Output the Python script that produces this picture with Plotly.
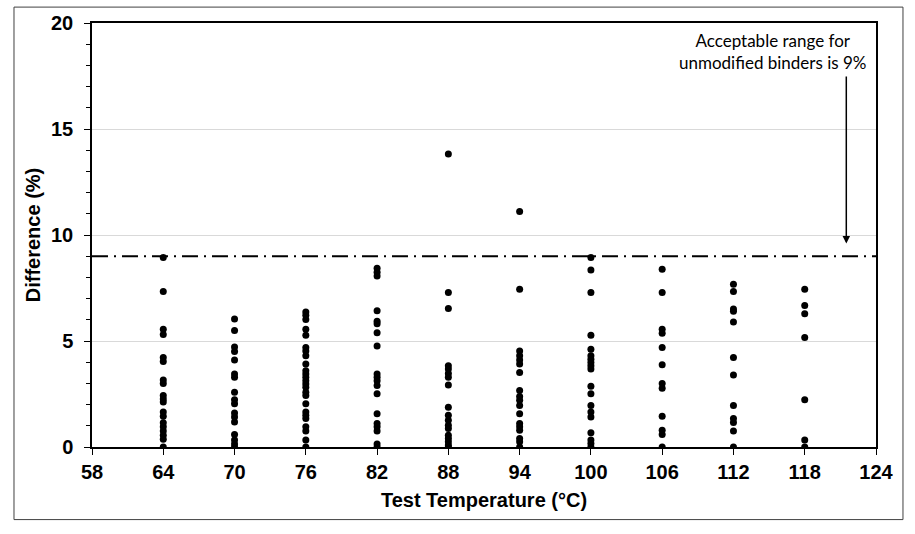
import plotly.graph_objects as go

temps = [64, 70, 76, 82, 88, 94, 100, 106, 112, 118]
diff_64 = [8.94, 7.34, 5.55, 5.31, 4.22, 4.03, 3.16, 3.0, 2.43, 2.27, 2.12, 1.65, 1.45, 1.14, 0.95, 0.76, 0.56, 0.36, 0.0]
diff_70 = [6.04, 5.50, 4.72, 4.50, 4.10, 3.44, 3.29, 2.58, 2.23, 2.04, 1.60, 1.42, 1.18, 0.59, 0.33, 0.14, 0.0]
diff_76 = [6.37, 6.21, 6.01, 5.55, 5.27, 4.69, 4.53, 4.30, 3.91, 3.60, 3.44, 3.29, 3.13, 2.97, 2.82, 2.58, 2.43, 2.04, 1.65, 1.50, 1.34, 0.95, 0.76, 0.33, 0.0]
diff_82 = [8.43, 8.24, 8.07, 6.43, 5.93, 5.81, 5.39, 4.77, 3.44, 3.29, 3.13, 2.90, 2.51, 1.57, 1.11, 0.95, 0.76, 0.14, 0.0]
diff_88 = [13.82, 7.29, 6.53, 3.83, 3.68, 3.47, 3.29, 2.93, 1.88, 1.50, 1.26, 1.03, 0.87, 0.56, 0.40, 0.25, 0.09, 0.0]
diff_94 = [11.11, 7.44, 4.53, 4.30, 4.10, 3.91, 3.52, 2.66, 2.38, 2.20, 1.96, 1.57, 1.11, 0.95, 0.79, 0.40, 0.25, 0.0]
diff_100 = [8.94, 8.35, 7.29, 5.27, 4.61, 4.30, 4.14, 3.99, 3.83, 3.68, 2.87, 2.51, 1.96, 1.65, 1.42, 0.67, 0.33, 0.17, 0.0]
diff_106 = [8.38, 7.29, 5.55, 5.36, 4.69, 3.88, 3.00, 2.77, 1.45, 0.79, 0.59, 0.0]
diff_112 = [7.68, 7.34, 6.51, 6.40, 5.90, 4.22, 3.40, 1.96, 1.34, 1.15, 0.76, 0.0]
diff_118 = [7.44, 6.67, 6.28, 5.16, 2.23, 0.33, 0.0]

limit = 9
x_ticks = [58, 64, 70, 76, 82, 88, 94, 100, 106, 112, 118, 124]
y_ticks = [0, 5, 10, 15, 20]

series = [diff_64, diff_70, diff_76, diff_82, diff_88, diff_94, diff_100, diff_106, diff_112, diff_118]
xs, ys = [], []
for t, vals in zip(temps, series):
    xs += [t] * len(vals)
    ys += vals

fig = go.Figure()
fig.add_trace(go.Scatter(x=[58, 124], y=[limit, limit], mode="lines",
                         line=dict(color="black", width=2, dash="16px,6px,2px,6px"),
                         hoverinfo="skip", showlegend=False))
fig.add_trace(go.Scatter(x=xs, y=ys, mode="markers",
                         marker=dict(color="black", size=7), showlegend=False))

fig.add_annotation(x=121.5, y=9.6, ax=121.5, ay=17.55, xref="x", yref="y", axref="x", ayref="y",
                   showarrow=True, arrowhead=2, arrowsize=1, arrowwidth=1.5, arrowcolor="black", text="")
fig.add_annotation(x=115.3, y=18.67, xref="x", yref="y", showarrow=False,
                   text="Acceptable range for<br>unmodified binders is 9%",
                   font=dict(family="Lato", size=17, color="black"), align="center")

# outer chart border
fig.add_shape(type="rect", xref="paper", yref="paper", x0=-0.0995, x1=1.0344, y0=-0.1712, y1=1.0375,
              line=dict(color="#404040", width=1), fillcolor="rgba(0,0,0,0)", layer="below")

font_b = dict(family="Liberation Sans", size=20, color="black")
tick_font = dict(family="Liberation Sans", size=20, color="black", weight="bold")
fig.update_layout(
    width=915, height=534,
    margin=dict(l=92, r=39, t=20, b=87),
    plot_bgcolor="white", paper_bgcolor="white",
    xaxis=dict(range=[58, 124], tickvals=x_ticks, ticktext=[str(v) for v in x_ticks],
               showgrid=False, zeroline=False, showline=True, linecolor="black", linewidth=1.5, mirror=True,
               ticks="outside", ticklen=6, tickcolor="black", tickfont=tick_font,
               title=dict(text="<b>Test Temperature (°C)</b>", font=font_b, standoff=11)),
    yaxis=dict(range=[0, 20], tickvals=y_ticks, showgrid=True, gridcolor="#d9d9d9", gridwidth=1,
               zeroline=False, showline=True, linecolor="black", linewidth=1.5, mirror=True,
               ticks="outside", ticklen=6, tickcolor="black",
               minor=dict(dtick=1, ticks="outside", ticklen=4, tickcolor="black", showgrid=False),
               tickfont=tick_font, ticklabelstandoff=7,
               title=dict(text="<b>Difference (%)</b>", font=font_b, standoff=5)),
)

fig.write_html("out.html", config={"displayModeBar": False},
               post_script="document.body.style.margin='0';document.body.style.overflow='hidden';")
